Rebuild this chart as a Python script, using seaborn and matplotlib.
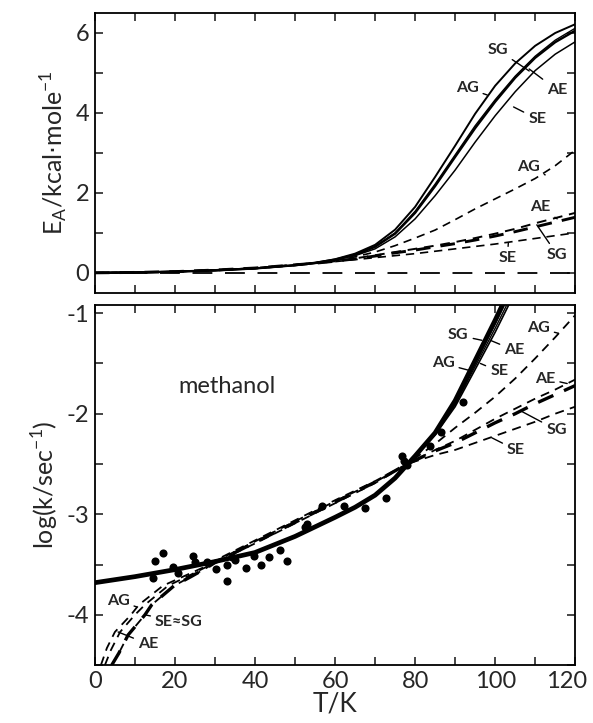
import numpy as np
import pandas as pd
import matplotlib
matplotlib.use('Agg')
import matplotlib.pyplot as plt
import matplotlib.transforms as mtrans
import seaborn as sns

# ---- top panel: apparent activation energy E_A (kcal/mole) vs T ----
T_top = [0, 10, 20, 30, 40, 50, 55, 60, 65, 70, 75, 80, 85, 90, 95, 100, 105, 110, 115, 120]
ea_ag_solid = [0, 0.01, 0.03, 0.06, 0.11, 0.19, 0.25, 0.34, 0.48, 0.70, 1.08, 1.65, 2.40, 3.18, 3.98, 4.68, 5.24, 5.68, 6.00, 6.22]
ea_sg_solid = [0, 0.01, 0.03, 0.06, 0.11, 0.19, 0.25, 0.33, 0.46, 0.66, 1.00, 1.54, 2.22, 2.95, 3.68, 4.33, 4.92, 5.42, 5.82, 6.12]
ea_ae_solid = [0, 0.01, 0.03, 0.06, 0.11, 0.19, 0.25, 0.33, 0.45, 0.65, 0.98, 1.50, 2.17, 2.90, 3.62, 4.28, 4.88, 5.38, 5.77, 6.06]
ea_se_solid = [0, 0.01, 0.03, 0.06, 0.11, 0.19, 0.25, 0.32, 0.43, 0.60, 0.90, 1.35, 1.93, 2.57, 3.27, 3.93, 4.53, 5.06, 5.47, 5.78]

ea_ag_dash = [0, 0.01, 0.03, 0.07, 0.12, 0.20, 0.25, 0.30, 0.40, 0.52, 0.68, 0.87, 1.07, 1.33, 1.60, 1.85, 2.10, 2.36, 2.68, 3.07]
ea_ae_dash = [0, 0.01, 0.03, 0.07, 0.12, 0.20, 0.24, 0.29, 0.36, 0.44, 0.52, 0.60, 0.68, 0.77, 0.87, 0.98, 1.10, 1.24, 1.37, 1.50]
ea_sg_dash = [0, 0.01, 0.03, 0.07, 0.12, 0.20, 0.24, 0.29, 0.35, 0.42, 0.50, 0.57, 0.65, 0.73, 0.82, 0.92, 1.03, 1.15, 1.27, 1.39]
ea_se_dash = [0, 0.01, 0.03, 0.07, 0.12, 0.20, 0.24, 0.28, 0.33, 0.38, 0.43, 0.48, 0.54, 0.60, 0.66, 0.72, 0.79, 0.86, 0.93, 1.00]

T_zero = [0, 120]
ea_zero = [0, 0]

# ---- bottom panel: log(k/sec^-1) vs T, methanol ----
T_sol = [0, 10, 20, 30, 40, 50, 60, 65, 70, 75, 80, 85, 90, 95, 100, 105]
lk_ag_solid = [-3.68, -3.62, -3.55, -3.47, -3.38, -3.22, -3.03, -2.93, -2.81, -2.64, -2.42, -2.19, -1.87, -1.47, -1.07, -0.65]
lk_sg_solid = [-3.68, -3.62, -3.55, -3.47, -3.38, -3.22, -3.03, -2.93, -2.81, -2.64, -2.42, -2.19, -1.89, -1.50, -1.11, -0.70]
lk_ae_solid = [-3.68, -3.62, -3.55, -3.47, -3.38, -3.22, -3.03, -2.93, -2.81, -2.64, -2.42, -2.20, -1.91, -1.53, -1.15, -0.75]
lk_se_solid = [-3.68, -3.62, -3.55, -3.47, -3.38, -3.22, -3.03, -2.93, -2.81, -2.64, -2.42, -2.21, -1.93, -1.56, -1.19, -0.79]

T_ag_dash = [1.5, 3, 5, 9, 11, 17, 22, 27, 30, 40, 50, 60, 70, 78, 85, 90, 95, 100, 105, 110, 115, 120]
lk_ag_dash = [-4.5, -4.33, -4.17, -4.0, -3.9, -3.71, -3.62, -3.53, -3.46, -3.26, -3.06, -2.86, -2.67, -2.5,
              -2.30, -2.14, -1.99, -1.83, -1.65, -1.45, -1.24, -1.02]
T_ae_dash = [2.5, 4, 6.3, 10, 12.5, 18.3, 23, 27.5, 30, 40, 50, 60, 70, 78, 85, 90, 95, 100, 105, 110, 115, 120]
lk_ae_dash = [-4.5, -4.35, -4.17, -4.0, -3.9, -3.71, -3.62, -3.53, -3.47, -3.27, -3.07, -2.87, -2.68, -2.5,
              -2.36, -2.27, -2.16, -2.05, -1.95, -1.85, -1.76, -1.66]
T_sx_dash = [4.2, 6, 8.3, 12.5, 14.2, 19.8, 24, 28, 30, 40, 50, 60, 70, 78, 85, 90, 95, 100, 105, 110, 115, 120]
lk_sg_dash = [-4.5, -4.38, -4.2, -4.0, -3.9, -3.71, -3.62, -3.53, -3.48, -3.28, -3.08, -2.88, -2.68, -2.5,
              -2.37, -2.29, -2.19, -2.09, -2.0, -1.9, -1.81, -1.72]
lk_se_dash = [-4.5, -4.38, -4.2, -4.0, -3.9, -3.71, -3.62, -3.53, -3.48, -3.29, -3.09, -2.89, -2.69, -2.5,
              -2.41, -2.36, -2.29, -2.22, -2.15, -2.08, -2.0, -1.93]

# measured points
T_obs = [14.6, 15.0, 16.9, 19.6, 20.8, 24.6, 25.0, 27.9, 30.2, 32.9, 32.9, 34.2, 35.0, 37.7, 39.7, 41.4,
         43.5, 46.3, 47.9, 52.5, 53.0, 56.8, 62.2, 67.5, 72.7, 76.7, 77.2, 77.9, 83.7, 86.5, 92.0]
lk_obs = [-3.63, -3.46, -3.38, -3.52, -3.58, -3.41, -3.47, -3.47, -3.54, -3.50, -3.66, -3.42, -3.45, -3.53,
          -3.41, -3.50, -3.42, -3.35, -3.46, -3.13, -3.10, -2.92, -2.92, -2.94, -2.84, -2.42, -2.47, -2.51,
          -2.32, -2.18, -1.88]

sns.set_style('ticks')
plt.rcParams['font.family'] = ['Lato', 'DejaVu Sans']
plt.rcParams['axes.unicode_minus'] = False
plt.rcParams['axes.linewidth'] = 1.3

fig = plt.figure(figsize=(5.93, 7.23), dpi=100)
ax1 = fig.add_axes([0.160, 0.595, 0.810, 0.387])
ax2 = fig.add_axes([0.160, 0.080, 0.810, 0.498])

dash = (0, (5, 3.5))
lbl = dict(fontsize=11.5, fontweight='bold', ha='center', va='center')
arw = dict(arrowstyle='-', lw=1.0, color='k', shrinkA=1, shrinkB=0)

# top panel
for y, lw in [(ea_ag_solid, 1.4), (ea_sg_solid, 1.0), (ea_ae_solid, 1.7), (ea_se_solid, 1.1)]:
    sns.lineplot(x=T_top, y=y, ax=ax1, color='k', lw=lw, sort=False, estimator=None)
for y, lw in [(ea_ag_dash, 1.2), (ea_ae_dash, 1.4), (ea_sg_dash, 2.1), (ea_se_dash, 1.2)]:
    sns.lineplot(x=T_top, y=y, ax=ax1, color='k', lw=lw, linestyle=dash, sort=False, estimator=None)
sns.lineplot(x=T_zero, y=ea_zero, ax=ax1, color='k', lw=1.3, linestyle=(0, (11, 7)), sort=False, estimator=None)

top_labels = [('SG', (100.6, 5.58), (108.5, 5.05)), ('AE', (115.5, 4.57), (108.5, 5.10)),
              ('AG', (93.0, 4.62), (98.0, 4.45)), ('SE', (110.5, 3.85), (104.6, 4.15)),
              ('AG', (108.3, 2.66), (112.5, 2.45)), ('AE', (111.3, 1.65), (115.5, 1.35)),
              ('SG', (115.5, 0.45), (110.4, 1.20)), ('SE', (103.0, 0.37), (103.3, 0.75))]
for txt, pos, tip in top_labels:
    ax1.annotate(txt, xy=tip, xytext=pos, arrowprops=arw, **lbl)

ax1.set_xlim(0, 120)
ax1.set_ylim(-0.5, 6.5)
ax1.set_xticks(np.arange(0, 121, 10))
ax1.set_xticklabels([])
ax1.set_yticks(np.arange(0, 7, 1))
ax1.set_yticklabels(['0', '', '2', '', '4', '', '6'])
ax1.set_ylabel(r'E$_\mathregular{A}$/kcal$\cdot$mole$^\mathregular{-1}$', fontsize=18, labelpad=4)

# bottom panel
for y, lw in [(lk_ag_solid, 3.4), (lk_sg_solid, 1.0), (lk_ae_solid, 1.0), (lk_se_solid, 1.2)]:
    sns.lineplot(x=T_sol, y=y, ax=ax2, color='k', lw=lw, sort=False, estimator=None)
for x, y, lw in [(T_ag_dash, lk_ag_dash, 1.3), (T_ae_dash, lk_ae_dash, 1.3),
                 (T_sx_dash, lk_sg_dash, 2.4), (T_sx_dash, lk_se_dash, 1.3)]:
    sns.lineplot(x=x, y=y, ax=ax2, color='k', lw=lw, linestyle=dash, sort=False, estimator=None)
sns.scatterplot(x=T_obs, y=lk_obs, ax=ax2, color='k', s=34, edgecolor='k', linewidth=0, zorder=5)

bot_labels = [('SG', (90.8, -1.22), (96.7, -1.27)), ('AE', (104.8, -1.37), (98.8, -1.27)),
              ('AG', (87.0, -1.50), (93.6, -1.57)), ('SE', (101.0, -1.58), (96.3, -1.50)),
              ('AG', (110.8, -1.15), (115.8, -1.20)), ('AE', (112.5, -1.65), (118.0, -1.70)),
              ('SG', (115.3, -2.16), (106.3, -1.97)), ('SE', (105.2, -2.36), (99.2, -2.24)),
              ('AG', (5.8, -3.86), (10.4, -3.92)), ('SE≈SG', (21.0, -4.07), (12.6, -4.0)),
              ('AE', (13.3, -4.29), (5.8, -4.17))]
for txt, pos, tip in bot_labels:
    ax2.annotate(txt, xy=tip, xytext=pos, arrowprops=arw, **lbl)

ax2.text(33, -1.73, 'methanol', fontsize=17, ha='center', va='center')

ax2.set_xlim(0, 120)
ax2.set_ylim(-4.5, -0.92)
ax2.set_xticks(np.arange(0, 121, 10))
ax2.set_xticklabels(['0', '', '20', '', '40', '', '60', '', '80', '', '100', '', '120'])
ax2.set_yticks(np.arange(-4.5, -0.9, 0.5))
ax2.set_yticklabels(['', '-4', '', '-3', '', '-2', '', '-1'])
ax2.set_xlabel('T/K', fontsize=19, labelpad=0)
ax2.set_ylabel(r'log(k/sec$^\mathregular{-1}$)', fontsize=18, labelpad=4)

for ax in (ax1, ax2):
    ax.tick_params(direction='in', length=6, width=1.2, top=True, right=True, labelsize=17, pad=4)
    for s in ax.spines.values():
        s.set_visible(True)
        s.set_color('k')

# nudge the last x label so it stays inside the figure
last = ax2.get_xticklabels()[-1]
last.set_transform(last.get_transform() + mtrans.ScaledTranslation(-9 / 100, 0, fig.dpi_scale_trans))

fig.savefig('out.png', dpi=100)
